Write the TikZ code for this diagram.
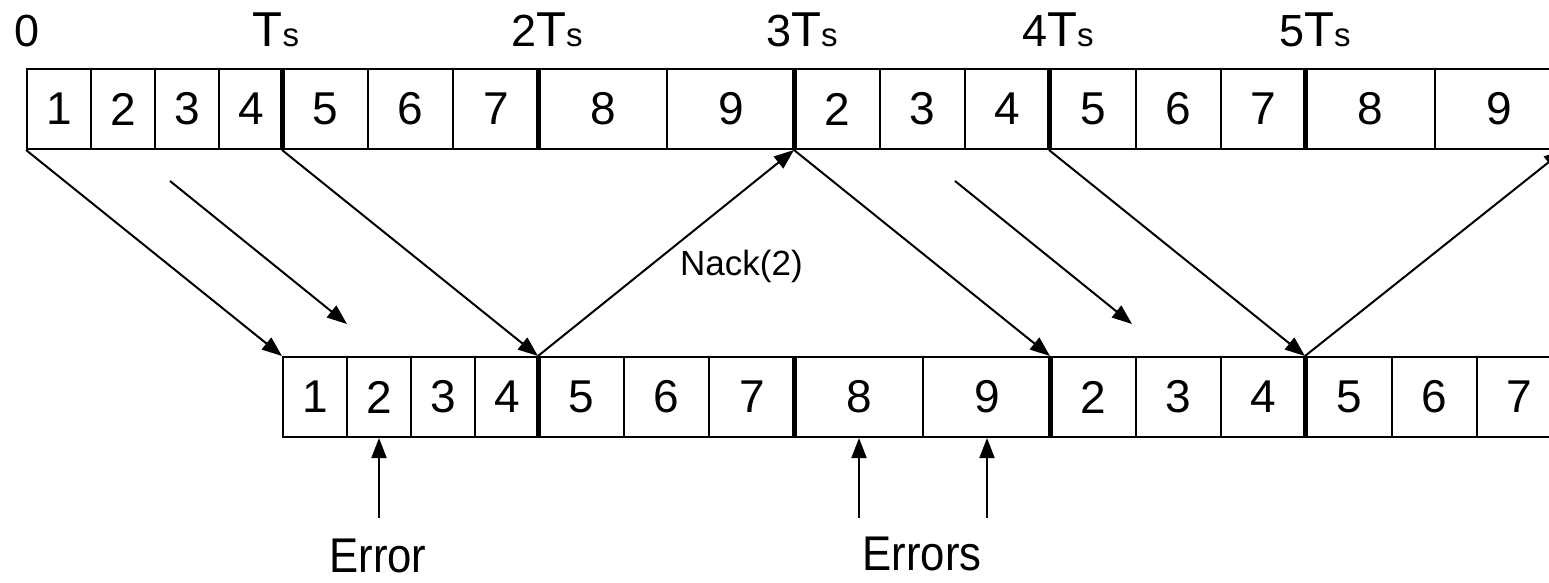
\documentclass[tikz,border=0pt]{standalone}
\usepackage{fontspec}
\setmainfont{Liberation Sans}
\usetikzlibrary{arrows.meta}
\tikzset{
  cell/.style={draw=black, line width=2pt, inner sep=0pt, minimum height=80pt, font=\fontsize{46}{50}\selectfont},
  thick bar/.style={line width=5pt},
  link/.style={line width=2pt, -{Triangle[length=20pt,width=15pt]}},
  tlabel/.style={anchor=base, inner sep=0pt, font=\fontsize{45}{50}\selectfont},
  elabel/.style={anchor=base, inner sep=0pt, font=\fontsize{46}{50}\selectfont},
  nlabel/.style={anchor=base west, inner sep=0pt, font=\fontsize{35}{40}\selectfont}
}
\newcommand{\Tsx}{{\fontsize{49}{50}\selectfont T}{\fontsize{33}{40}\selectfont s}}
\begin{document}
\begin{tikzpicture}[x=1pt,y=-1pt]
\clip (0,0) rectangle (1549,582);
\fill[white] (0,0) rectangle (1549,582);
% top row
\foreach \a/\b/\t/\n in {27/91/1/t1, 91/155/2/t2, 155/219/3/t3, 219/283/4/t4,
  283/368/5/t5, 368/453/6/t6, 453/539/7/t7, 539/667/8/t8, 667/795/9/t9,
  795/880/2/t10, 880/965/3/t11, 965/1050/4/t12, 1050/1136/5/t13, 1136/1221/6/t14,
  1221/1306/7/t15, 1306/1435/8/t16, 1435/1563/9/t17}{
  \node[cell, minimum width={(\b-\a)*1pt}] (\n) at ({(\a+\b)/2},109) {\t};
}
% bottom row
\foreach \a/\b/\t/\n in {283/347/1/b1, 347/411/2/b2, 411/475/3/b3, 475/539/4/b4,
  539/624/5/b5, 624/709/6/b6, 709/795/7/b7, 795/923/8/b8, 923/1051/9/b9,
  1051/1136/2/b10, 1136/1221/3/b11, 1221/1306/4/b12, 1306/1392/5/b13,
  1392/1477/6/b14, 1477/1562/7/b15}{
  \node[cell, minimum width={(\b-\a)*1pt}] (\n) at ({(\a+\b)/2},397) {\t};
}
% thick group separators
\foreach \n in {t5,t8,t10,t13,t16,b5,b8,b10,b13}{
  \draw[thick bar] (\n.north west) -- (\n.south west);
}
% time labels
\node[tlabel] (l0) at (27,46) {0};
\node[tlabel] (l1) at (276,46) {\Tsx};
\node[tlabel] (l2) at (547,46) {2\Tsx};
\node[tlabel] (l3) at (802,46) {3\Tsx};
\node[tlabel] (l4) at (1058,46) {4\Tsx};
\node[tlabel] (l5) at (1315,46) {5\Tsx};
% transmissions
\draw[link] (t1.south west) -- (b1.north west);
\draw[link] (t5.south west) -- (b5.north west);
\draw[link] (b5.north west) -- (t10.south west);
\draw[link] (t10.south west) -- (b10.north west);
\draw[link] (t13.south west) -- (b13.north west);
\draw[link] (b13.north west) -- (t17.south east);
\coordinate (s1a) at (170,181);
\coordinate (s1b) at (347,324);
\coordinate (s2a) at (955,181);
\coordinate (s2b) at (1132,324);
\draw[link] (s1a) -- (s1b);
\draw[link] (s2a) -- (s2b);
\node[nlabel] (nack) at (680,275) {Nack(2)};
% errors
\coordinate (e1) at (379,518);
\coordinate (e2) at (859,518);
\coordinate (e3) at (987,518);
\draw[link] (e1) -- (b2.south);
\draw[link] (e2) -- (b8.south);
\draw[link] (e3) -- (b9.south);
\node[elabel] (err1) at (378,572) {\scalebox{0.95}[1.06]{Error}};
\node[elabel] (err2) at (922,570) {\scalebox{0.95}[1.06]{Errors}};
\end{tikzpicture}
\end{document}
